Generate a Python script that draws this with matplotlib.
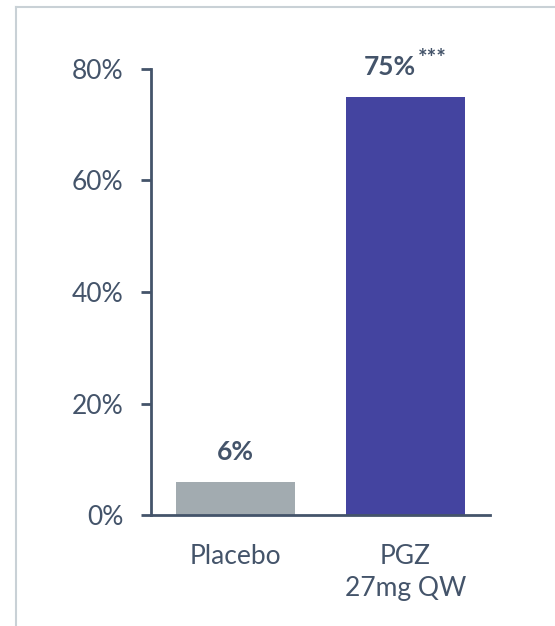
import matplotlib.pyplot as plt
from matplotlib.lines import Line2D

# Datos
grupos = ['Placebo', 'PGZ\n27mg QW']
valores = [6, 75]
etiquetas = ['6%', '75%']
marcas = ['', '***']
colores = ['#A2ABB0', '#4444A0']
ticks_y = [0, 20, 40, 60, 80]

texto = '#44546A'
plt.rcParams['font.family'] = ['Lato', 'DejaVu Sans']

fig = plt.figure(figsize=(5.55, 6.26), dpi=100)
ax = fig.add_axes([0.2721, 0.1773, 0.6108, 0.7125])

x = range(len(grupos))
ax.bar(x, valores, width=0.7, color=colores)

# Etiquetas de valor sobre cada barra (el texto con asteriscos va centrado en conjunto)
for i, (v, et, m) in enumerate(zip(valores, etiquetas, marcas)):
    dx = -11 if m else 0
    t = ax.annotate(et, (i, v), xytext=(dx, 13), textcoords='offset points',
                    ha='center', va='bottom', fontsize=19, fontweight='bold',
                    color=texto)
    if m:
        ax.annotate(m, (1, 1), xycoords=t, xytext=(1, 5),
                    textcoords='offset points', ha='left', va='top',
                    fontsize=16, fontweight='bold', color=texto)

ax.set_xlim(-0.5, 1.5)
ax.set_ylim(0, 80)
ax.set_yticks(ticks_y)
ax.set_yticklabels([f'{t}%' for t in ticks_y])
ax.set_xticks(list(x))
ax.set_xticklabels(grupos, linespacing=1.35)

for s in ['top', 'right']:
    ax.spines[s].set_visible(False)
for s in ['left', 'bottom']:
    ax.spines[s].set_color(texto)
    ax.spines[s].set_linewidth(2)
ax.tick_params(axis='y', length=7, width=2, color=texto, labelcolor=texto,
               labelsize=19, pad=13)
ax.tick_params(axis='x', length=0, labelcolor=texto, labelsize=19, pad=21)

# Marco gris de la diapositiva
marco = '#C9D1D6'
fig.add_artist(Line2D([16 / 555, 16 / 555], [0, 1 - 7 / 626], color=marco,
                      lw=1.5, transform=fig.transFigure))
fig.add_artist(Line2D([16 / 555, 1], [1 - 7 / 626, 1 - 7 / 626], color=marco,
                      lw=1.5, transform=fig.transFigure))

fig.savefig('out.png', dpi=100)
